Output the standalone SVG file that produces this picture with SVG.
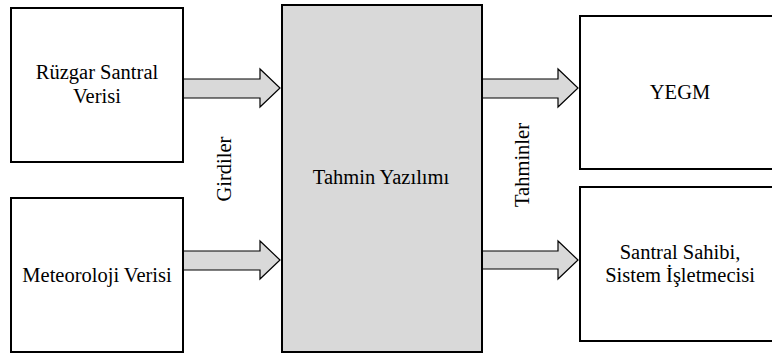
<svg xmlns="http://www.w3.org/2000/svg" width="772" height="358" viewBox="0 0 772 358">
<style>
.box{fill:#ffffff;stroke:#000000;stroke-width:2}
.main{fill:#d9d9d9;stroke:#000000;stroke-width:2}
.arr{fill:#d9d9d9;stroke:#000000;stroke-width:1.2;stroke-linejoin:miter}
.t{font-family:'Liberation Serif','Times New Roman',Times,Tinos,'Noto Serif','DejaVu Serif',FreeSerif,serif;font-size:20.5px;fill:#000000;text-anchor:middle}
</style>
<rect x="0" y="0" width="772" height="358" fill="#ffffff"/>
<g id="connectors">
<polygon class="arr" points="183,79 260,79 260,69 280,88 260,107 260,98 183,98"/>
<polygon class="arr" points="183,251 260,251 260,241 280,260 260,279 260,270 183,270"/>
<polygon class="arr" points="482,79 558,79 558,69 578,88 558,107 558,98 482,98"/>
<polygon class="arr" points="482,251 558,251 558,241 578,260 558,279 558,269 482,269"/>
</g>
<g id="ruzgar">
<rect class="box" x="11" y="8" width="172" height="154"/>
<text class="t" x="97" y="79">Rüzgar Santral</text>
<text class="t" x="97" y="103">Verisi</text>
</g>
<g id="meteoroloji">
<rect class="box" x="11" y="198" width="172" height="154"/>
<text class="t" x="97" y="282">Meteoroloji Verisi</text>
</g>
<g id="tahmin">
<rect class="main" x="282" y="5" width="200" height="347"/>
<text class="t" x="381" y="184">Tahmin Yazılımı</text>
</g>
<g id="girdiler">
<text class="t" transform="translate(231,169) rotate(-90)">Girdiler</text>
</g>
<g id="tahminler">
<text class="t" transform="translate(529,165) rotate(-90)">Tahminler</text>
</g>
<g id="yegm">
<rect class="box" x="580" y="16" width="200" height="153"/>
<text class="t" x="680" y="99">YEGM</text>
</g>
<g id="santral">
<rect class="box" x="580" y="187" width="200" height="154"/>
<text class="t" x="680" y="259">Santral Sahibi,</text>
<text class="t" x="680" y="282">Sistem İşletmecisi</text>
</g>
</svg>
